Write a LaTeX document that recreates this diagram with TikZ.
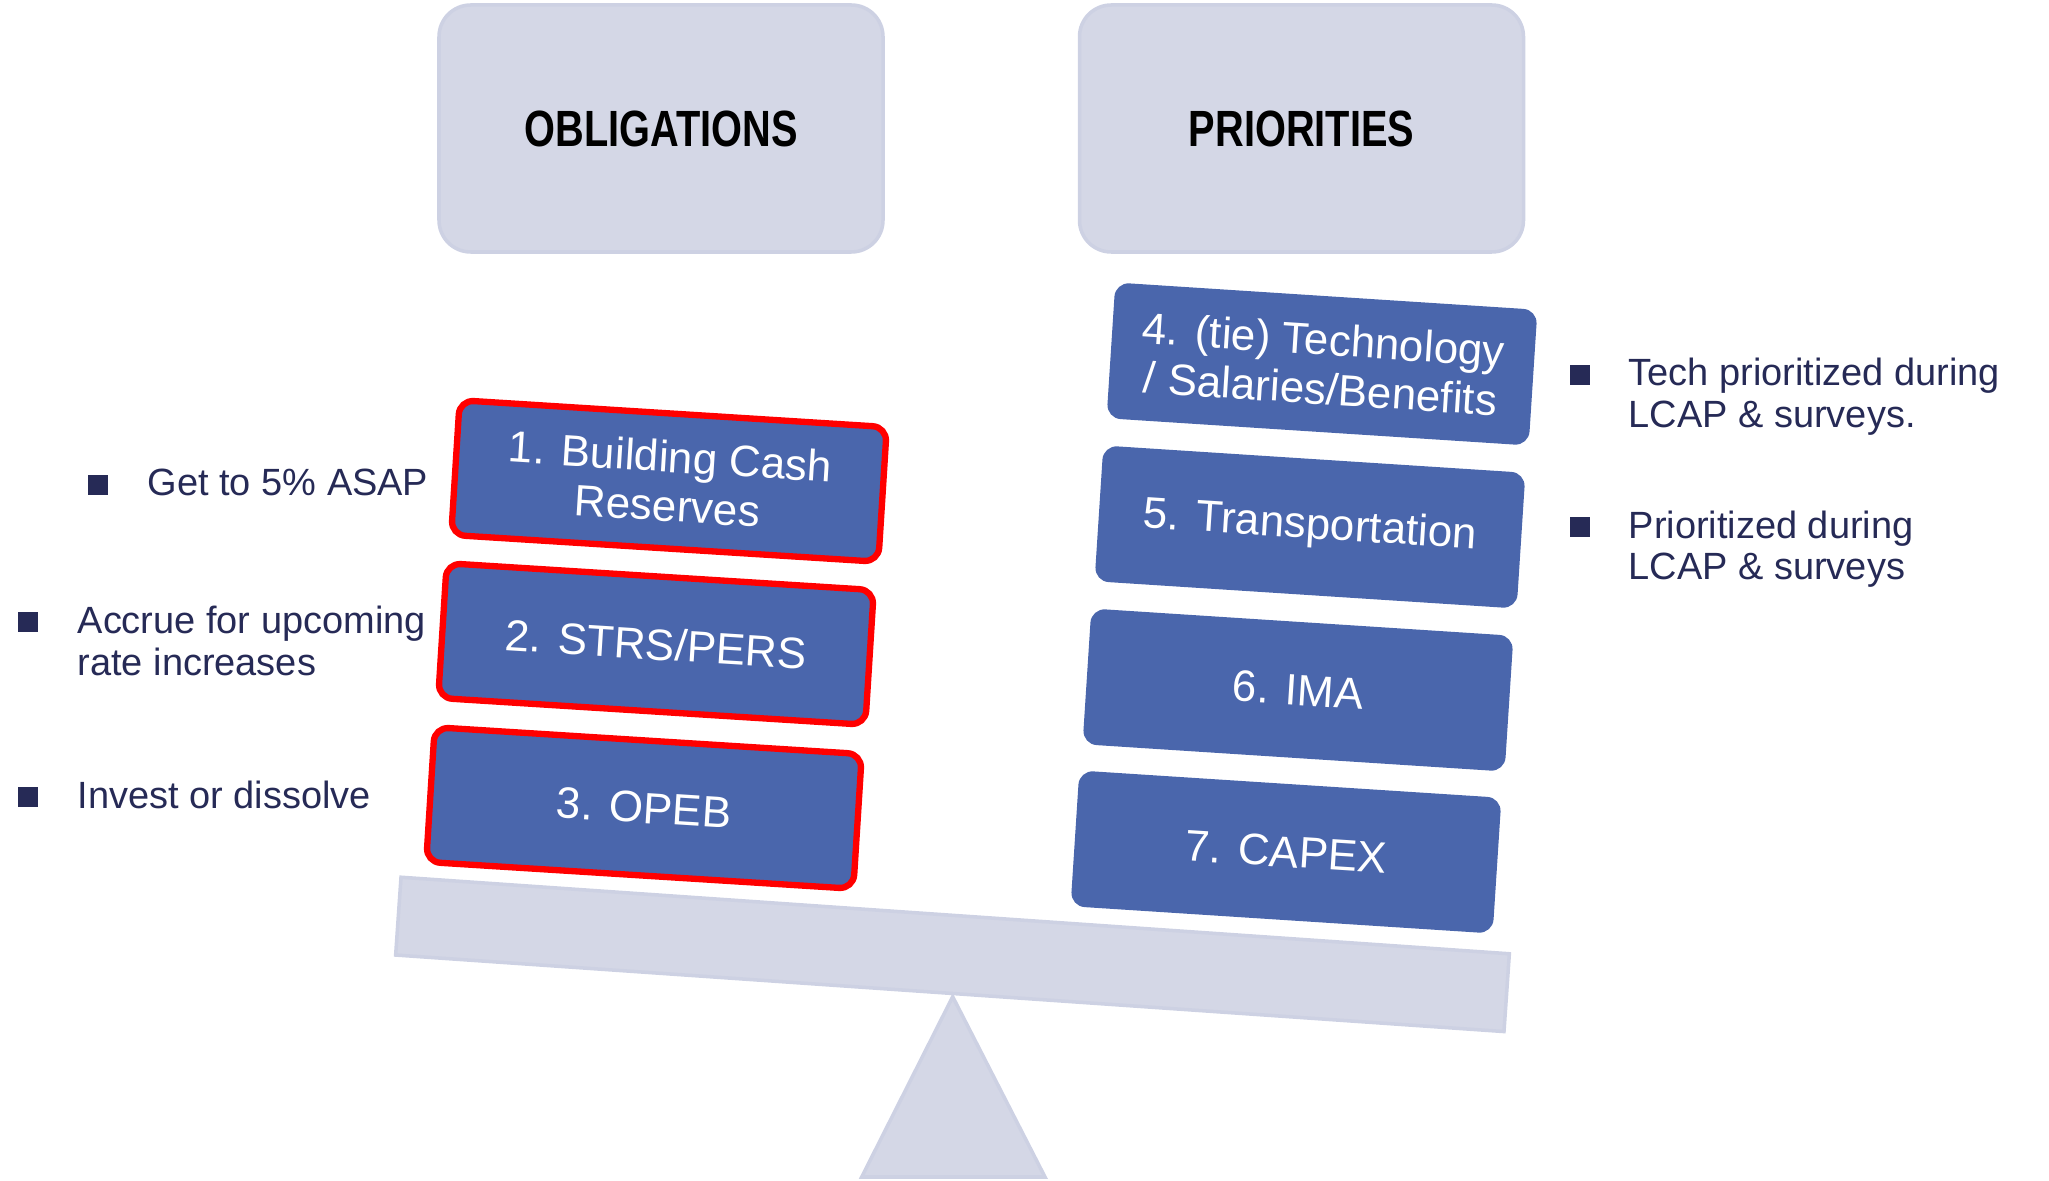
\documentclass[tikz,border=0pt]{standalone}
\usepackage{fontspec}
\setmainfont{Liberation Sans}
\newfontfamily\headfont[FakeStretch=0.78]{Liberation Sans}
\usetikzlibrary{
  calc,
  positioning
}
\definecolor{panelgray}{HTML}{D4D7E6}
\definecolor{panelline}{HTML}{CDD1E3}
\definecolor{itemblue}{HTML}{4A66AC}
\definecolor{flagred}{HTML}{FF0000}
\definecolor{notenavy}{HTML}{262A56}

\begin{document}
\begin{tikzpicture}[
  header/.style={fill=panelgray, draw=panelline, line width=1pt, rounded corners=9pt,
    minimum width=4.44cm, minimum height=2.47cm,
    font=\headfont\bfseries\fontsize{14.5}{16}\selectfont, text=black},
  item/.style={fill=itemblue, rounded corners=4pt, text=white, align=center,
    inner sep=2pt, font=\fontsize{12.5}{14}\selectfont},
  obligation/.style={item, draw=flagred, line width=1.8pt, rotate=-3.6,
    minimum width=4.28cm, minimum height=1.35cm},
  priority/.style={item, rotate=-3.7, minimum width=4.23cm, minimum height=1.36cm},
  note/.style={anchor=base west, inner sep=0pt, align=left, text=notenavy,
    font=\fontsize{10.8}{11.9}\selectfont},
  bullet/.style={fill=notenavy, minimum size=0.2cm, inner sep=0pt},
  beam/.style={fill=panelgray, draw=panelline, line width=1pt, inner sep=0pt,
    minimum width=11.11cm, minimum height=0.78cm, rotate=-3.95},
]

\useasboundingbox (0,0) rectangle (20.49,11.80);

% ═══════════════════════════════════════════
% COLUMN HEADERS
% ═══════════════════════════════════════════
\node[header] (oblig) at (6.61, 10.515) {OBLIGATIONS};
\node[header] (prior) at (13.015, 10.515) {PRIORITIES};

% ═══════════════════════════════════════════
% SCALE (beam + fulcrum)
% ═══════════════════════════════════════════
\coordinate (pivot) at (9.527, 1.833);
\filldraw[fill=panelgray, draw=panelline, line width=1pt]
  (pivot) -- (10.45, 0.03) -- (8.617, 0.03) -- cycle;

\node[beam] (beam) at (9.525, 2.256) {};

% ═══════════════════════════════════════════
% LEFT PAN: obligations (red outline)
% ═══════════════════════════════════════════
\node[obligation] (cash) at (6.69, 6.99) {1. Building Cash\\Reserves};
\node[obligation] (strs) at (6.56, 5.36) {2. STRS/PERS};
\node[obligation] (opeb) at (6.44, 3.72) {3. OPEB};

% ═══════════════════════════════════════════
% RIGHT PAN: priorities
% ═══════════════════════════════════════════
\node[priority] (tech)  at (13.22, 8.16) {4. (tie) Technology\\/ Salaries/Benefits};
\node[priority] (trans) at (13.10, 6.53) {5. Transportation};
\node[priority] (ima)   at (12.98, 4.90) {6. IMA};
\node[priority] (capex) at (12.86, 3.28) {7. CAPEX};

% ═══════════════════════════════════════════
% SIDE NOTES (base = last line)
% ═══════════════════════════════════════════
\node[note] (cashnote) at (1.47, 6.84) {Get to 5\% ASAP};
\node[note] (strsnote) at (0.77, 5.05) {Accrue for upcoming\\rate increases};
\node[note] (opebnote) at (0.77, 3.72) {Invest or dissolve};
\node[note] (technote)  at (16.28, 7.527) {Tech prioritized during\\LCAP \& surveys.};
\node[note] (transnote) at (16.28, 6.00) {Prioritized during\\LCAP \& surveys};

% Square bullets, bottom on the first baseline
\node[bullet, left=0.38cm of cashnote.base west, anchor=south east] (cashdot) {};
\node[bullet, above left=0.42cm and 0.38cm of strsnote.base west, anchor=south east] (strsdot) {};
\node[bullet, left=0.38cm of opebnote.base west, anchor=south east] (opebdot) {};
\node[bullet, above left=0.42cm and 0.37cm of technote.base west, anchor=south east] (techdot) {};
\node[bullet, above left=0.42cm and 0.37cm of transnote.base west, anchor=south east] (transdot) {};

\end{tikzpicture}
\end{document}
